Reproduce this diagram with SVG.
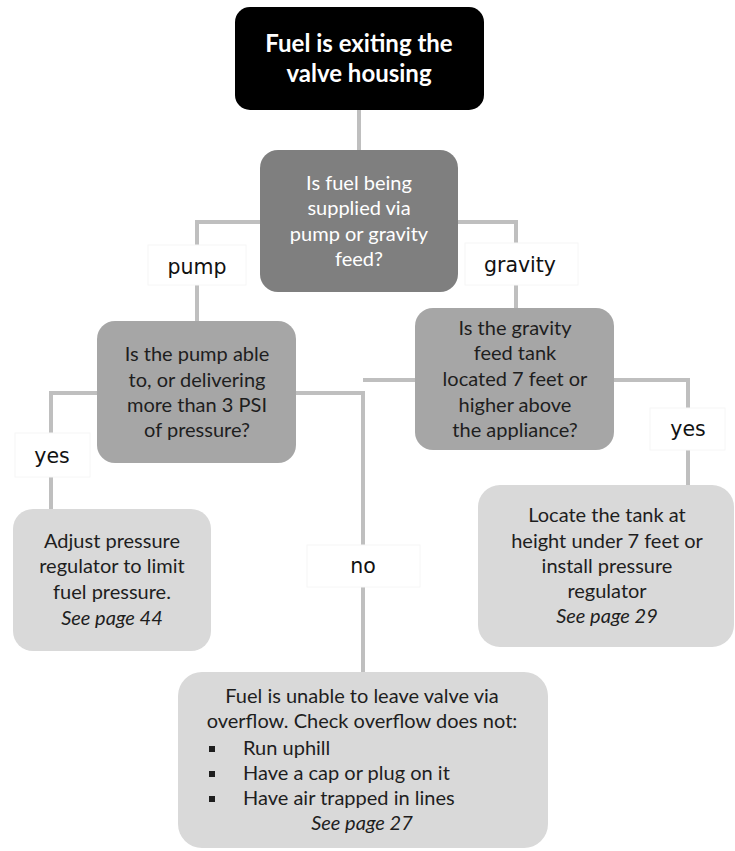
<svg xmlns="http://www.w3.org/2000/svg" width="735" height="851" viewBox="0 0 735 851">
<style>
.conn{fill:none;stroke:#bfbfbf;stroke-width:4}
.lbl-bg{fill:#ffffff;stroke:#f6f6f6;stroke-width:1}
.lbl{font-family:"DejaVu Sans",Verdana,sans-serif;font-size:20.5px;fill:#111;text-anchor:middle}
.t{font-family:Lato,"Open Sans",sans-serif;font-size:20px;text-anchor:middle}
.s{text-anchor:start}
.w{fill:#ffffff}
.k{fill:#1e1e1e}
.it{font-style:italic}
.title{font-family:Lato,"Open Sans",sans-serif;font-size:24px;font-weight:bold;fill:#fff;text-anchor:middle}
</style>
<rect width="735" height="851" fill="#ffffff"/>
<g id="connectors">
<path class="conn" d="M359,110 V150"/>
<path class="conn" d="M260,222 H197 V321"/>
<path class="conn" d="M458,222 H516 V308"/>
<path class="conn" d="M97,393 H51 V509"/>
<path class="conn" d="M296,393 H363 V672"/>
<path class="conn" d="M415,380 H363"/>
<path class="conn" d="M614,380 H688 V485"/>
</g>
<g id="label-pump"><rect class="lbl-bg" x="148" y="245" width="98" height="40"/><text class="lbl" x="197" y="274">pump</text></g>
<g id="label-gravity"><rect class="lbl-bg" x="465" y="243" width="113" height="42"/><text class="lbl" x="520" y="272">gravity</text></g>
<g id="label-yes-left"><rect class="lbl-bg" x="15" y="433" width="75" height="44"/><text class="lbl" x="52" y="463">yes</text></g>
<g id="label-no"><rect class="lbl-bg" x="307" y="545" width="113" height="42"/><text class="lbl" x="363" y="573">no</text></g>
<g id="label-yes-right"><rect class="lbl-bg" x="650" y="408" width="75" height="42"/><text class="lbl" x="688" y="436">yes</text></g>
<g id="start">
<rect x="235" y="7" width="249" height="103" rx="15" fill="#000000"/>
<text class="title" x="359" y="52">Fuel is exiting the</text>
<text class="title" x="359" y="82">valve housing</text>
</g>
<g id="decision-supply">
<rect x="260" y="150" width="198" height="142" rx="18" fill="#7f7f7f"/>
<text class="t w" x="359" y="190">Is fuel being</text>
<text class="t w" x="359" y="215">supplied via</text>
<text class="t w" x="359" y="241">pump or gravity</text>
<text class="t w" x="359" y="266">feed?</text>
</g>
<g id="decision-pump">
<rect x="97" y="321" width="199" height="142" rx="18" fill="#a6a6a6"/>
<text class="t k" x="197" y="361">Is the pump able</text>
<text class="t k" x="197" y="387">to, or delivering</text>
<text class="t k" x="197" y="412">more than 3 PSI</text>
<text class="t k" x="197" y="437">of pressure?</text>
</g>
<g id="decision-gravity">
<rect x="415" y="308" width="199" height="142" rx="18" fill="#a6a6a6"/>
<text class="t k" x="515" y="335">Is the gravity</text>
<text class="t k" x="515" y="360">feed tank</text>
<text class="t k" x="515" y="386">located 7 feet or</text>
<text class="t k" x="515" y="412">higher above</text>
<text class="t k" x="515" y="437">the appliance?</text>
</g>
<g id="adjust-regulator">
<rect x="13" y="509" width="198" height="142" rx="20" fill="#d9d9d9"/>
<text class="t k" x="112" y="548">Adjust pressure</text>
<text class="t k" x="112" y="573">regulator to limit</text>
<text class="t k" x="112" y="599">fuel pressure.</text>
<text class="t k it" x="112" y="625">See page 44</text>
</g>
<g id="locate-tank">
<rect x="478" y="485" width="256" height="162" rx="22" fill="#d9d9d9"/>
<text class="t k" x="607" y="522">Locate the tank at</text>
<text class="t k" x="607" y="548">height under 7 feet or</text>
<text class="t k" x="607" y="573">install pressure</text>
<text class="t k" x="607" y="598">regulator</text>
<text class="t k it" x="607" y="623">See page 29</text>
</g>
<g id="check-overflow">
<rect x="178" y="672" width="370" height="176" rx="24" fill="#d9d9d9"/>
<text class="t k" x="362" y="703">Fuel is unable to leave valve via</text>
<text class="t k" x="362" y="728">overflow. Check overflow does not:</text>
<rect x="209" y="746" width="6" height="6" fill="#1e1e1e"/>
<text class="t k s" x="243" y="755">Run uphill</text>
<rect x="209" y="771" width="6" height="6" fill="#1e1e1e"/>
<text class="t k s" x="243" y="780">Have a cap or plug on it</text>
<rect x="209" y="796" width="6" height="6" fill="#1e1e1e"/>
<text class="t k s" x="243" y="805">Have air trapped in lines</text>
<text class="t k it" x="362" y="830">See page 27</text>
</g>
</svg>
